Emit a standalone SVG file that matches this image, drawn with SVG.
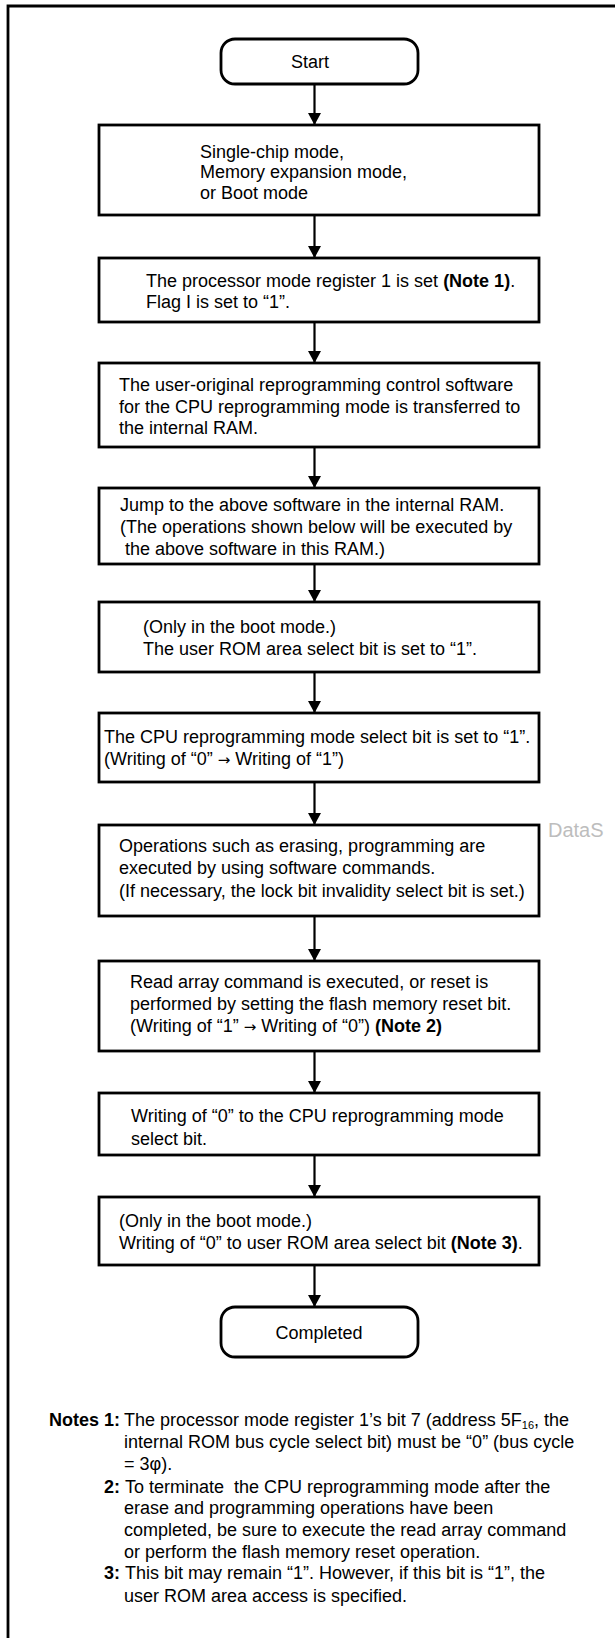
<svg xmlns="http://www.w3.org/2000/svg" width="615" height="1638" viewBox="0 0 615 1638">
<style>
.box{fill:#fff;stroke:#000;stroke-width:2.8}
.t{font-family:"Liberation Sans",Arial,sans-serif;font-size:18px;fill:#000}
.b{font-weight:bold}
.ar{font-family:"DejaVu Sans",sans-serif;font-size:15px}
.conn line{stroke:#000;stroke-width:2.2}
.sub{font-size:11px}
</style>
<defs>
<marker id="ah" markerUnits="userSpaceOnUse" markerWidth="12" markerHeight="13" refX="12" refY="6.5" orient="auto" viewBox="0 0 12 13"><path d="M0,0 L12,6.5 L0,13 z" fill="#000"/></marker>
</defs>
<rect width="615" height="1638" fill="#fff"/>
<path d="M8,1638 V6 H615" fill="none" stroke="#000" stroke-width="2.8"/>
<text x="548" y="837" font-family="Liberation Sans,Arial,sans-serif" font-size="20" fill="#bdbdbd">DataS</text>

<g class="conn">
<line x1="314.5" y1="84" x2="314.5" y2="125" marker-end="url(#ah)"/>
<line x1="314.5" y1="215" x2="314.5" y2="258" marker-end="url(#ah)"/>
<line x1="314.5" y1="322" x2="314.5" y2="363" marker-end="url(#ah)"/>
<line x1="314.5" y1="447" x2="314.5" y2="488" marker-end="url(#ah)"/>
<line x1="314.5" y1="564" x2="314.5" y2="602" marker-end="url(#ah)"/>
<line x1="314.5" y1="672" x2="314.5" y2="713" marker-end="url(#ah)"/>
<line x1="314.5" y1="782" x2="314.5" y2="825" marker-end="url(#ah)"/>
<line x1="314.5" y1="916" x2="314.5" y2="961" marker-end="url(#ah)"/>
<line x1="314.5" y1="1051" x2="314.5" y2="1093" marker-end="url(#ah)"/>
<line x1="314.5" y1="1155" x2="314.5" y2="1197" marker-end="url(#ah)"/>
<line x1="314.5" y1="1265" x2="314.5" y2="1307" marker-end="url(#ah)"/>
</g>

<g id="start">
<rect class="box" x="221" y="39" width="197" height="45" rx="14"/>
<text class="t" x="310" y="68" text-anchor="middle">Start</text>
</g>
<g id="mode">
<rect class="box" x="99" y="125" width="440" height="90"/>
<text class="t" x="200" y="158">Single-chip mode,</text>
<text class="t" x="200" y="178">Memory expansion mode,</text>
<text class="t" x="200" y="199">or Boot mode</text>
</g>
<g id="pmr">
<rect class="box" x="99" y="258" width="440" height="64"/>
<text class="t" x="146" y="287">The processor mode register 1 is set <tspan class="b">(Note 1)</tspan>.</text>
<text class="t" x="146" y="308">Flag I is set to “1”.</text>
</g>
<g id="transfer">
<rect class="box" x="99" y="363" width="440" height="84"/>
<text class="t" x="119" y="391">The user-original reprogramming control software</text>
<text class="t" x="119" y="413">for the CPU reprogramming mode is transferred to</text>
<text class="t" x="119" y="434">the internal RAM.</text>
</g>
<g id="jump">
<rect class="box" x="99" y="488" width="440" height="76"/>
<text class="t" x="120" y="511">Jump to the above software in the internal RAM.</text>
<text class="t" x="120" y="533">(The operations shown below will be executed by</text>
<text class="t" x="125" y="555">the above software in this RAM.)</text>
</g>
<g id="userrom">
<rect class="box" x="99" y="602" width="440" height="70"/>
<text class="t" x="143" y="633">(Only in the boot mode.)</text>
<text class="t" x="143" y="655">The user ROM area select bit is set to “1”.</text>
</g>
<g id="cpusel">
<rect class="box" x="99" y="713" width="440" height="69"/>
<text class="t" x="104" y="743">The CPU reprogramming mode select bit is set to “1”.</text>
<text class="t" x="104" y="765">(Writing of “0” <tspan class="ar">→</tspan> Writing of “1”)</text>
</g>
<g id="ops">
<rect class="box" x="99" y="825" width="440" height="91"/>
<text class="t" x="119" y="852">Operations such as erasing, programming are</text>
<text class="t" x="119" y="874">executed by using software commands.</text>
<text class="t" x="119" y="897">(If necessary, the lock bit invalidity select bit is set.)</text>
</g>
<g id="readarray">
<rect class="box" x="99" y="961" width="440" height="90"/>
<text class="t" x="130" y="988">Read array command is executed, or reset is</text>
<text class="t" x="130" y="1010">performed by setting the flash memory reset bit.</text>
<text class="t" x="130" y="1032">(Writing of “1” <tspan class="ar">→</tspan> Writing of “0”) <tspan class="b">(Note 2)</tspan></text>
</g>
<g id="cpuzero">
<rect class="box" x="99" y="1093" width="440" height="62"/>
<text class="t" x="131" y="1122">Writing of “0” to the CPU reprogramming mode</text>
<text class="t" x="131" y="1145">select bit.</text>
</g>
<g id="romzero">
<rect class="box" x="99" y="1197" width="440" height="68"/>
<text class="t" x="119" y="1227">(Only in the boot mode.)</text>
<text class="t" x="119" y="1249">Writing of “0” to user ROM area select bit <tspan class="b">(Note 3)</tspan>.</text>
</g>
<g id="completed">
<rect class="box" x="221" y="1307" width="197" height="50" rx="14"/>
<text class="t" x="319" y="1339" text-anchor="middle">Completed</text>
</g>

<g id="notes">
<text class="t b" x="49" y="1426">Notes 1:</text>
<text class="t" x="124" y="1426">The processor mode register 1’s bit 7 (address 5F<tspan class="sub" dy="3">16</tspan><tspan dy="-3">, the</tspan></text>
<text class="t" x="124" y="1448">internal ROM bus cycle select bit) must be “0” (bus cycle</text>
<text class="t" x="124" y="1470">= 3φ).</text>
<text class="t b" x="104" y="1493">2:</text>
<text class="t" x="125" y="1493" xml:space="preserve">To terminate  the CPU reprogramming mode after the</text>
<text class="t" x="124" y="1514">erase and programming operations have been</text>
<text class="t" x="124" y="1536">completed, be sure to execute the read array command</text>
<text class="t" x="124" y="1558">or perform the flash memory reset operation.</text>
<text class="t b" x="104" y="1579">3:</text>
<text class="t" x="125" y="1579">This bit may remain “1”. However, if this bit is “1”, the</text>
<text class="t" x="124" y="1602">user ROM area access is specified.</text>
</g>
</svg>
